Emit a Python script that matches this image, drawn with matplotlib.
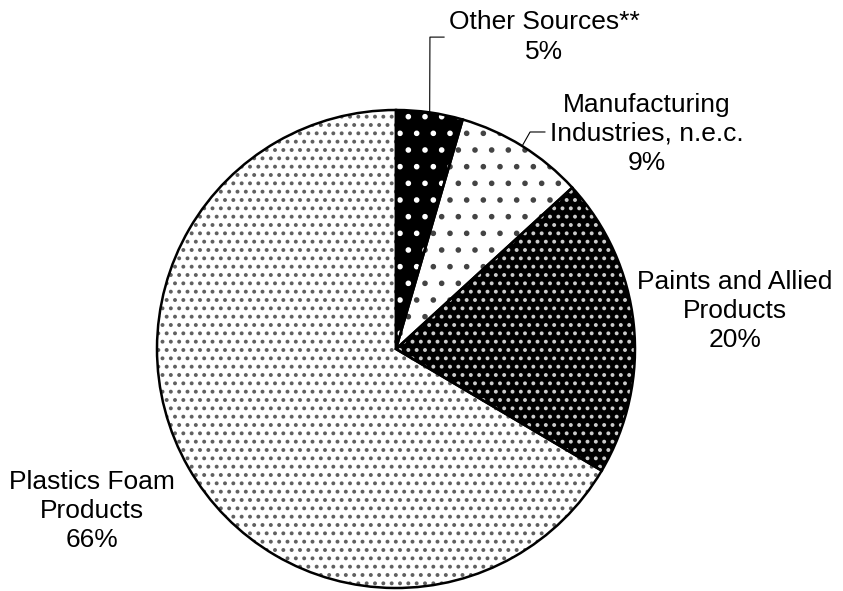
import matplotlib
matplotlib.use("Agg")
import matplotlib.pyplot as plt
import numpy as np

plt.rcParams['font.family'] = ['Liberation Sans', 'DejaVu Sans']
plt.rcParams['hatch.linewidth'] = 1.6

# slices, clockwise from 12 o'clock
labels = ['Other Sources**', 'Manufacturing\nIndustries, n.e.c.',
          'Paints and Allied\nProducts', 'Plastics Foam\nProducts']
shares = [4.5, 8.7, 20.3, 66.5]
pct_text = ['5%', '9%', '20%', '66%']

face = ['black', 'white', 'black', 'white']
dots = ['white', '#444444', '#cccccc', '#606060']
hatches = ['.', '.', '..', '..']

# label centres (data units, pie radius = 1)
label_pos = [(0.619, 1.305), (1.05, 0.900), (1.418, 0.159), (-1.272, -0.678)]
# leader elbows for the two small slices
elbows = {0: (0.142, 1.305, 0.201), 1: (0.561, 0.908, 0.623)}

fig = plt.figure(figsize=(8.43, 5.91), dpi=100)
ax = fig.add_axes([0, 0, 1, 1])

wedges, _ = ax.pie(shares, startangle=90, counterclock=False, radius=1,
                   colors=face, wedgeprops=dict(linewidth=0))
for w, h, c in zip(wedges, hatches, dots):
    w.set_hatch(h)
    w.set_edgecolor(c)

# outlines on top
ax.pie(shares, startangle=90, counterclock=False, radius=1,
       wedgeprops=dict(fill=False, edgecolor='black', linewidth=1.8))

for i, w in enumerate(wedges):
    x, y = label_pos[i]
    ax.text(x, y, labels[i] + '\n' + pct_text[i], ha='center', va='center',
            fontsize=19, linespacing=1.28)
    if i in elbows:
        mid = np.deg2rad((w.theta1 + w.theta2) / 2)
        ex, ey, hx = elbows[i]
        ax.plot([np.cos(mid), ex, hx], [np.sin(mid), ey, ey],
                color='black', linewidth=0.8)

ax.set_xlim(-396 / 239, (843 - 396) / 239)
ax.set_ylim(-(591 - 349) / 239, 349 / 239)
ax.set_aspect('auto')
ax.axis('off')

fig.savefig('out.png', dpi=100)
